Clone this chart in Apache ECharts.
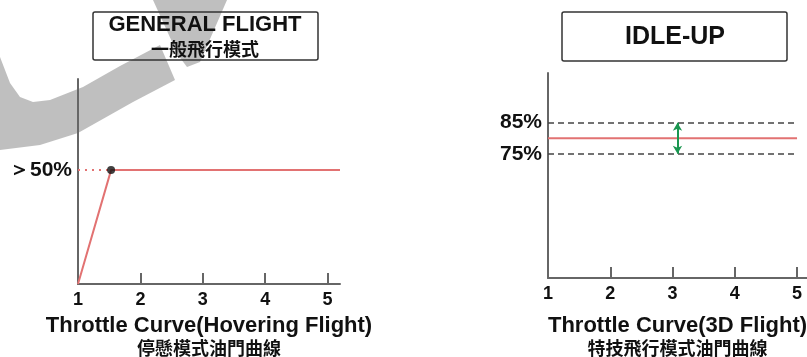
<!DOCTYPE html>
<html>
<head>
<meta charset="utf-8">
<script src="https://cdn.jsdelivr.net/npm/echarts@6/dist/echarts.min.js"></script>
<style>
  html, body { margin: 0; padding: 0; background: #fff; }
  #chart { width: 807px; height: 357px; }
</style>
</head>
<body>
<div id="chart"></div>
<script>
// x ticks shared by both panels
var xTicks = [1, 2, 3, 4, 5];

// general flight (hovering) curve
var hoverCurve = [[1, 0], [1.53, 50], [5.2, 50]];
var hoverPoint = [[1.53, 50]];
var hoverLabels = [50];

// idle-up curve
var idleCurve = [[1, 80], [5, 80]];
var idleRange = [75, 85];
var idleArrowX = 3.08;

var LATIN = '"Liberation Sans", Arial, sans-serif';
var CJK = '"Noto Sans CJK TC", "Noto Sans CJK SC", sans-serif';
var AXIS = '#666';
var RED = '#e27272';

var myChart = echarts.init(document.getElementById('chart'));

function xAxisFor(idx, max, gap, line1, line2) {
	return {
		type: 'value', gridIndex: idx, min: 1, max: max,
		axisLine: { lineStyle: { color: AXIS, width: 2 } },
		axisTick: { inside: true, length: 11, customValues: xTicks, lineStyle: { color: AXIS, width: 2 } },
		axisLabel: {
			customValues: xTicks, margin: 7,
			color: '#111', fontFamily: LATIN, fontWeight: 'bold', fontSize: 18
		},
		splitLine: { show: false },
		name: '{a|' + line1 + '}\n{b|' + line2 + '}',
		nameLocation: 'middle', nameGap: gap,
		nameTextStyle: {
			rich: {
				a: { color: '#111', fontFamily: LATIN, fontWeight: 'bold', fontSize: 22, lineHeight: 22 },
				b: { color: '#111', fontFamily: CJK, fontWeight: 'bold', fontSize: 18, lineHeight: 22 }
			}
		}
	};
}

function yAxisFor(idx, min, max, labels, fmt) {
	return {
		type: 'value', gridIndex: idx, min: min, max: max,
		axisLine: { show: true, lineStyle: { color: AXIS, width: 2 } },
		axisTick: { show: false },
		axisLabel: {
			customValues: labels, margin: 6,
			color: '#111', fontFamily: LATIN, fontWeight: 'bold', fontSize: 21,
			formatter: fmt
		},
		splitLine: { show: false }
	};
}

var option = {
	animation: false,
	backgroundColor: '#fff',
	grid: [
		{ left: 78, top: 79, width: 262, bottom: 73, outerBoundsMode: 'none' },
		{ left: 548, top: 73, right: 0, bottom: 79, outerBoundsMode: 'none' }
	],
	xAxis: [
		xAxisFor(0, 5.2, 31, 'Throttle Curve(Hovering Flight)', '停懸模式油門曲線'),
		xAxisFor(1, 5.16, 37, 'Throttle Curve(3D Flight)', '特技飛行模式油門曲線')
	],
	yAxis: [
		yAxisFor(0, 0, 90, hoverLabels, function (v) { return '＞' + v + '%'; }),
		yAxisFor(1, 35, 101, idleRange, function (v) { return v + '%'; })
	],
	graphic: [
		// grey watermark swoosh
		{
			type: 'polygon', z: -10, silent: true,
			shape: { points: [[0, 57], [10, 83], [20, 97], [33, 102], [50, 100], [83, 87], [120, 66], [160, 45],
				[175, 80], [133, 102], [78, 133], [40, 145], [0, 150]] },
			style: { fill: 'rgba(120,120,120,0.47)' }
		},
		{
			type: 'polygon', z: -10, silent: true,
			shape: { points: [[153, 0], [227, 0], [200, 62], [187, 67], [178, 55]] },
			style: { fill: 'rgba(120,120,120,0.47)' }
		},
		// title boxes
		{ type: 'rect', shape: { x: 93, y: 12, width: 225, height: 48, r: 2 },
			style: { fill: 'none', stroke: '#333', lineWidth: 1.5 } },
		{ type: 'text', x: 205, y: 25, style: { text: 'GENERAL FLIGHT', fill: '#111', font: 'bold 22px ' + LATIN, align: 'center', verticalAlign: 'middle' } },
		{ type: 'text', x: 205, y: 49, style: { text: '一般飛行模式', fill: '#111', font: 'bold 18px ' + CJK, align: 'center', verticalAlign: 'middle' } },
		{ type: 'rect', shape: { x: 562, y: 12, width: 225, height: 49, r: 2 },
			style: { fill: 'none', stroke: '#333', lineWidth: 1.5 } },
		{ type: 'text', x: 675, y: 37, style: { text: 'IDLE-UP', fill: '#111', font: 'bold 25px ' + LATIN, align: 'center', verticalAlign: 'middle' } }
	],
	series: [
		{
			name: 'hover', type: 'line', xAxisIndex: 0, yAxisIndex: 0,
			data: hoverCurve, symbol: 'none',
			lineStyle: { color: RED, width: 2 }
		},
		{
			name: 'hover guide', type: 'line', xAxisIndex: 0, yAxisIndex: 0,
			data: [[1, hoverPoint[0][1]], hoverPoint[0]], symbol: 'none',
			lineStyle: { color: RED, width: 2, type: [2, 5] }
		},
		{
			name: 'hover point', type: 'scatter', xAxisIndex: 0, yAxisIndex: 0,
			data: hoverPoint, symbolSize: 8, itemStyle: { color: '#111' }, z: 5
		},
		{
			name: 'idle', type: 'line', xAxisIndex: 1, yAxisIndex: 1,
			data: idleCurve, symbol: 'none',
			lineStyle: { color: RED, width: 2 },
			markLine: {
				silent: true, symbol: 'none', label: { show: false },
				lineStyle: { color: '#444', width: 1.5, type: [6, 4] },
				data: idleRange.map(function (v) {
					return [{ coord: [1, v] }, { coord: [5, v] }];
				})
			}
		},
		{
			name: 'idle range', type: 'line', xAxisIndex: 1, yAxisIndex: 1,
			data: [], symbol: 'none',
			markLine: {
				silent: true, symbol: ['arrow', 'arrow'], symbolSize: [7, 8], label: { show: false },
				lineStyle: { color: '#1a9650', width: 2, type: 'solid' },
				data: [[{ coord: [idleArrowX, idleRange[0]] }, { coord: [idleArrowX, idleRange[1]] }]]
			}
		}
	]
};
myChart.setOption(option);
</script>
</body>
</html>
